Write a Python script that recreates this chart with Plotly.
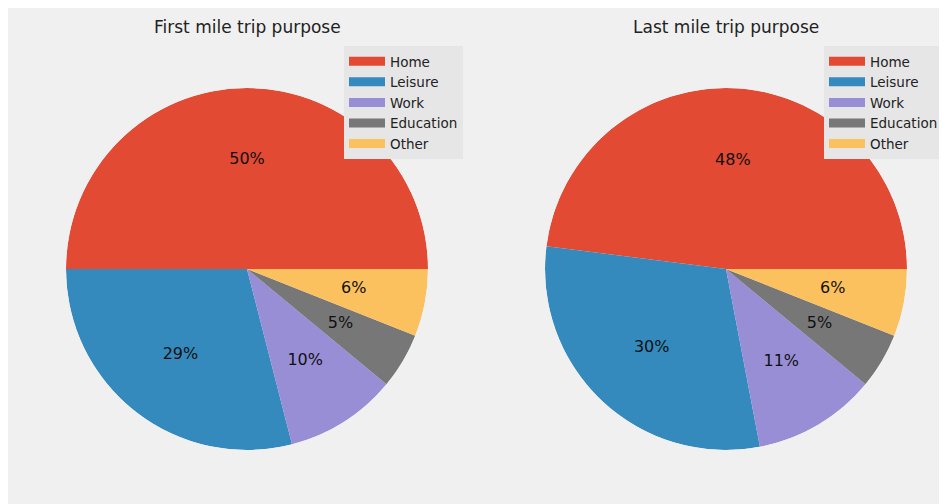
import plotly.graph_objects as go

labels = ["Home", "Leisure", "Work", "Education", "Other"]
first_mile = [50, 29, 10, 5, 6]
last_mile = [48, 30, 11, 5, 6]
colors = ["#E24A33", "#348ABD", "#988ED5", "#777777", "#FBC15E"]
titles = ["First mile trip purpose", "Last mile trip purpose"]

W, H = 947, 504
BG = "#f0f0f0"
FONT = "DejaVu Sans"
OFF = 8  # page body margin


def px(x):
    return (x - OFF) / W


def py(y):
    return 1 - (y - OFF) / H


def slice_geometry(vals):
    total = float(sum(vals))
    spans, mids, start = [], [], 0.0
    for v in vals:
        span = 360.0 * v / total
        spans.append(span)
        mids.append(start + span / 2)
        start += span
    return spans, mids, [f"{100.0 * v / total:.0f}%" for v in vals]


fig = go.Figure()
layout_extra = {}
for i, vals in enumerate([first_mile, last_mile]):
    cx = 247 if i == 0 else 726
    cy, r = 269, 181
    pname = "polar" if i == 0 else "polar2"
    sub = "polar" if i == 0 else "polar2"
    leg = "legend" if i == 0 else "legend2"
    spans, mids, texts = slice_geometry(vals)
    fig.add_trace(go.Barpolar(
        r=[1] * len(vals), theta=mids, width=spans, base=0,
        marker=dict(color=colors, line=dict(width=0)),
        customdata=labels, hovertemplate="%{customdata}<extra></extra>",
        subplot=sub, showlegend=False,
    ))
    fig.add_trace(go.Scatterpolar(
        r=[0.6] * len(vals), theta=mids, mode="text", text=texts,
        textfont=dict(family=FONT, size=16, color="#111111"),
        subplot=sub, showlegend=False, hoverinfo="skip",
    ))
    for lab, col in zip(labels, colors):
        fig.add_trace(go.Scatterpolar(
            r=[None], theta=[None], mode="lines", name=lab,
            line=dict(color=col, width=9), subplot=sub, legend=leg,
            hoverinfo="skip",
        ))
    layout_extra[pname] = dict(
        domain=dict(x=[px(cx - r), px(cx + r)], y=[py(cy + r), py(cy - r)]),
        bgcolor="rgba(0,0,0,0)", hole=0,
        radialaxis=dict(visible=False, range=[0, 1]),
        angularaxis=dict(visible=False, rotation=0, direction="counterclockwise"),
    )
    fig.add_annotation(text=titles[i], x=px(cx), y=py(27), xref="paper", yref="paper",
                       showarrow=False, font=dict(family=FONT, size=17, color="#222222"),
                       xanchor="center", yanchor="middle")

legend_style = dict(bgcolor="#e6e6e6", borderwidth=0,
                    font=dict(family=FONT, size=13.5, color="#222222"),
                    xanchor="left", yanchor="top", tracegroupgap=0, itemwidth=36,
                    itemclick=False, itemdoubleclick=False)
fig.update_layout(
    width=W, height=H, margin=dict(l=0, r=0, t=0, b=0),
    paper_bgcolor=BG, plot_bgcolor=BG,
    legend=dict(x=px(344), y=py(46), **legend_style),
    legend2=dict(x=px(824), y=py(46), **legend_style),
    **layout_extra,
)
fig.write_html("out.html")
